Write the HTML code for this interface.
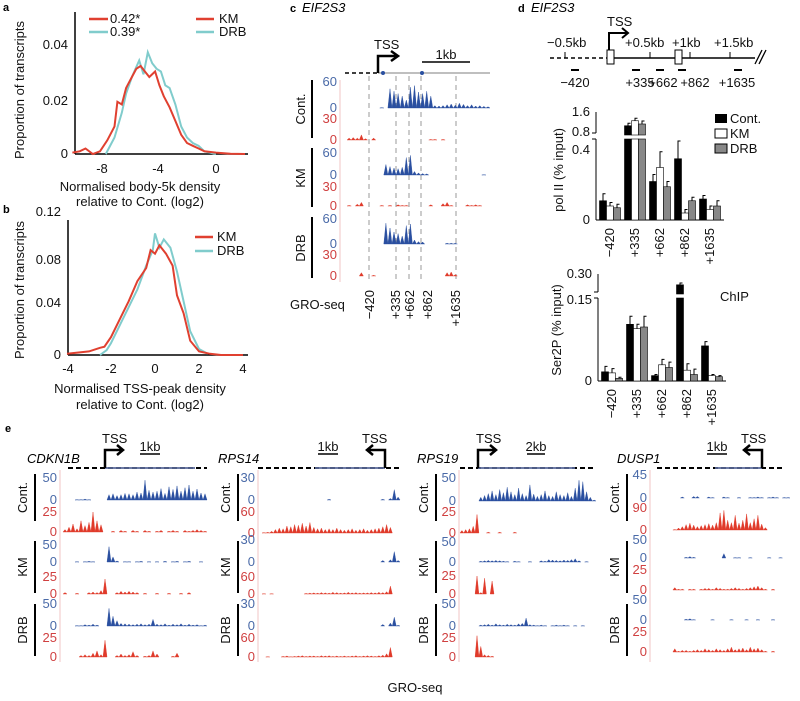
<!DOCTYPE html>
<html><head><meta charset="utf-8"><style>
body{margin:0;background:#fff}
svg{display:block;font-family:"Liberation Sans",Arial,sans-serif}
.t{font-size:13px;fill:#111}
.bl{font-size:13px;fill:#4a6aa8}
.rd{font-size:13px;fill:#d04040}
.pl{font-size:11px;font-weight:bold;fill:#000}
.it{font-style:italic;font-size:13px;fill:#000}
</style></head><body>
<svg id="fig" width="800" height="701" viewBox="0 0 800 701">
<text class="pl" x="3" y="11">a</text>
<text class="pl" x="3" y="213">b</text>
<text class="pl" x="290" y="12">c</text>
<text class="it" x="302" y="12">EIF2S3</text>
<text class="pl" x="518" y="12">d</text>
<text class="it" x="531" y="12">EIF2S3</text>
<text class="pl" x="5" y="432">e</text>

<g id="pa">
<line x1="75" y1="12" x2="75" y2="154" stroke="#000" stroke-width="1.5"/>
<line x1="75" y1="154" x2="248" y2="154" stroke="#000" stroke-width="1.5"/>
<text class="t" x="68" y="49" text-anchor="end">0.04</text>
<text class="t" x="68" y="105" text-anchor="end">0.02</text>
<text class="t" x="68" y="158" text-anchor="end">0</text>
<text class="t" x="102" y="173" text-anchor="middle">-8</text>
<text class="t" x="158" y="173" text-anchor="middle">-4</text>
<text class="t" x="216" y="173" text-anchor="middle">0</text>
<text class="t" x="140" y="191" text-anchor="middle">Normalised body-5k density</text>
<text class="t" x="140" y="206" text-anchor="middle">relative to Cont. (log2)</text>
<text class="t" transform="translate(24,90) rotate(-90)" text-anchor="middle">Proportion of transcripts</text>
<line x1="89" y1="19" x2="108" y2="19" stroke="#e04030" stroke-width="2.5"/>
<text class="t" x="110" y="23">0.42*</text>
<line x1="89" y1="32" x2="108" y2="32" stroke="#80cccc" stroke-width="2.5"/>
<text class="t" x="110" y="36">0.39*</text>
<line x1="196" y1="19" x2="214" y2="19" stroke="#e04030" stroke-width="2.5"/>
<text class="t" x="219" y="23">KM</text>
<line x1="196" y1="32" x2="214" y2="32" stroke="#80cccc" stroke-width="2.5"/>
<text class="t" x="219" y="36">DRB</text>
</g>

<g id="pb">
<line x1="68" y1="220" x2="68" y2="355" stroke="#000" stroke-width="1.5"/>
<line x1="68" y1="355" x2="248" y2="355" stroke="#000" stroke-width="1.5"/>
<text class="t" x="61" y="216" text-anchor="end">0.12</text>
<text class="t" x="61" y="264" text-anchor="end">0.08</text>
<text class="t" x="61" y="307" text-anchor="end">0.04</text>
<text class="t" x="61" y="359" text-anchor="end">0</text>
<text class="t" x="68" y="373" text-anchor="middle">-4</text>
<text class="t" x="111" y="373" text-anchor="middle">-2</text>
<text class="t" x="155" y="373" text-anchor="middle">0</text>
<text class="t" x="199" y="373" text-anchor="middle">2</text>
<text class="t" x="243" y="373" text-anchor="middle">4</text>
<text class="t" x="140" y="393" text-anchor="middle">Normalised TSS-peak density</text>
<text class="t" x="140" y="409" text-anchor="middle">relative to Cont. (log2)</text>
<text class="t" transform="translate(24,290) rotate(-90)" text-anchor="middle">Proportion of transcripts</text>
<line x1="195" y1="237" x2="213" y2="237" stroke="#e04030" stroke-width="2.5"/>
<text class="t" x="217" y="241">KM</text>
<line x1="195" y1="251" x2="213" y2="251" stroke="#80cccc" stroke-width="2.5"/>
<text class="t" x="217" y="255">DRB</text>
</g>

<g id="pc">
<line x1="345" y1="73" x2="378" y2="73" stroke="#000" stroke-width="1.5" stroke-dasharray="4,3"/>
<line x1="378" y1="73" x2="490" y2="73" stroke="#aaa" stroke-width="1.5"/>
<circle cx="383" cy="73" r="2" fill="#2a4fa0"/><circle cx="422" cy="73" r="2" fill="#2a4fa0"/>
<path d="M378,73 V56 H398 M391,51 L398,56 L391,61" fill="none" stroke="#000" stroke-width="2.5"/>
<text class="t" x="374" y="49">TSS</text>
<line x1="422" y1="62" x2="470" y2="62" stroke="#000" stroke-width="1.5"/>
<text class="t" x="446" y="59" text-anchor="middle">1kb</text>
<line x1="340" y1="80" x2="340" y2="282" stroke="#f2c4c4" stroke-width="1"/>
<g stroke="#999" stroke-dasharray="5,4" stroke-width="1">
<line x1="369" y1="76" x2="369" y2="283"/><line x1="396" y1="76" x2="396" y2="283"/>
<line x1="409" y1="76" x2="409" y2="283"/><line x1="421" y1="76" x2="421" y2="283"/>
<line x1="456" y1="76" x2="456" y2="283"/></g>
<line x1="312" y1="80" x2="312" y2="138" stroke="#000" stroke-width="2"/>
<line x1="312" y1="148" x2="312" y2="207" stroke="#000" stroke-width="2"/>
<line x1="312" y1="217" x2="312" y2="278" stroke="#000" stroke-width="2"/>
<text class="t" transform="translate(305,109) rotate(-90)" text-anchor="middle">Cont.</text>
<text class="t" transform="translate(305,178) rotate(-90)" text-anchor="middle">KM</text>
<text class="t" transform="translate(305,248) rotate(-90)" text-anchor="middle">DRB</text>
<g text-anchor="end">
<text class="bl" x="337" y="86">60</text><text class="bl" x="337" y="112">0</text>
<text class="rd" x="337" y="123">30</text><text class="rd" x="337" y="144">0</text>
<text class="bl" x="337" y="157">60</text><text class="bl" x="337" y="179">0</text>
<text class="rd" x="337" y="191">30</text><text class="rd" x="337" y="210">0</text>
<text class="bl" x="337" y="223">60</text><text class="bl" x="337" y="248">0</text>
<text class="rd" x="337" y="259">30</text><text class="rd" x="337" y="280">0</text>
</g>
<text class="t" x="290" y="309">GRO-seq</text>
<g text-anchor="end">
<text class="t" transform="translate(374,290) rotate(-90)">−420</text>
<text class="t" transform="translate(400,290) rotate(-90)">+335</text>
<text class="t" transform="translate(414,290) rotate(-90)">+662</text>
<text class="t" transform="translate(432,290) rotate(-90)">+862</text>
<text class="t" transform="translate(460,290) rotate(-90)">+1635</text>
</g>
</g>

<g id="pd">
<line x1="550" y1="58" x2="609" y2="58" stroke="#000" stroke-width="1.5" stroke-dasharray="4,3"/>
<line x1="609" y1="58" x2="755" y2="58" stroke="#000" stroke-width="1.5"/>
<path d="M755,64 L762,50 M759,64 L766,50" stroke="#000" stroke-width="1.3"/>
<line x1="565" y1="52" x2="565" y2="58" stroke="#000"/><line x1="650" y1="52" x2="650" y2="58" stroke="#000"/>
<line x1="690" y1="52" x2="690" y2="58" stroke="#000"/><line x1="730" y1="52" x2="730" y2="58" stroke="#000"/>
<rect x="607" y="50" width="7" height="14" fill="#fff" stroke="#000"/>
<rect x="675" y="50" width="7" height="14" fill="#fff" stroke="#000"/>
<path d="M609,50 V33 H628 M622,28 L628,33 L622,38" fill="none" stroke="#000" stroke-width="2"/>
<text class="t" x="607" y="26">TSS</text>
<g><text class="t" x="547" y="47">−0.5kb</text><text class="t" x="625" y="47">+0.5kb</text>
<text class="t" x="672" y="47">+1kb</text><text class="t" x="714" y="47">+1.5kb</text></g>
<g stroke="#000" stroke-width="2"><line x1="571" y1="70" x2="579" y2="70"/><line x1="632" y1="70" x2="640" y2="70"/>
<line x1="656" y1="70" x2="664" y2="70"/><line x1="678" y1="70" x2="686" y2="70"/><line x1="734" y1="70" x2="742" y2="70"/></g>
<g text-anchor="middle"><text class="t" x="575" y="87">−420</text><text class="t" x="640" y="87">+335</text>
<text class="t" x="663" y="87">+662</text><text class="t" x="695" y="87">+862</text><text class="t" x="737" y="87">+1635</text></g>
<text class="t" transform="translate(563,170) rotate(-90)" text-anchor="middle">pol II (% input)</text>
<text class="t" transform="translate(561,330) rotate(-90)" text-anchor="middle">Ser2P (% input)</text>
<text class="t" x="720" y="301">ChIP</text>
<rect x="715" y="114" width="12" height="9" fill="#000"/><text class="t" x="730" y="123">Cont.</text>
<rect x="715" y="129" width="12" height="9" fill="#fff" stroke="#000"/><text class="t" x="730" y="138">KM</text>
<rect x="715" y="144" width="12" height="9" fill="#888" stroke="#000"/><text class="t" x="730" y="153">DRB</text>
</g>

<g id="pe"></g>
<text class="t" x="415" y="692" text-anchor="middle">GRO-seq</text>
</svg>
<script>
const NS='http://www.w3.org/2000/svg';
const svg=document.getElementById('fig');
function mk(tag,attrs,parent){const e=document.createElementNS(NS,tag);for(const k in attrs)e.setAttribute(k,attrs[k]);(parent||svg).appendChild(e);return e;}

const aKmX=[-9.9,-9.4,-9.0,-8.5,-8.0,-7.5,-7.0,-6.8,-6.5,-6.2,-5.8,-5.5,-5.2,-4.9,-4.6,-4.2,-3.9,-3.6,-3.2,-2.8,-2.4,-2.0,-1.6,-1.2,-0.8,0,1,2];
const aKmY=[0.0005,0.001,0.002,0.0,0.001,0.005,0.010,0.019,0.018,0.024,0.028,0.031,0.032,0.030,0.028,0.030,0.025,0.021,0.017,0.012,0.007,0.004,0.003,0.002,0.001,0.0005,0.0001,0];
const aDrbX=[-7.6,-7.0,-6.5,-6.2,-5.8,-5.3,-5.0,-4.7,-4.4,-4.1,-3.8,-3.5,-3.2,-2.8,-2.4,-2.0,-1.6,-1.2,-0.8,0];
const aDrbY=[0,0.006,0.015,0.022,0.028,0.034,0.029,0.037,0.033,0.031,0.030,0.025,0.024,0.018,0.010,0.006,0.004,0.003,0.001,0];
const ax=v=>216+v*14.5, ay=v=>154-v*2750;
const bKmX=[-4,-3,-2.5,-2.3,-2,-1.6,-1.2,-0.8,-0.4,-0.2,0,0.2,0.5,0.8,1.0,1.3,1.6,2,2.5,3,4];
const bKmY=[0.001,0.003,0.006,0.007,0.015,0.030,0.045,0.062,0.073,0.088,0.085,0.092,0.085,0.075,0.050,0.035,0.012,0.003,0.001,0,0];
const bDrbX=[-2.5,-2.2,-2,-1.6,-1.2,-0.8,-0.4,-0.1,0,0.2,0.4,0.7,1.0,1.3,1.6,2,2.4];
const bDrbY=[0,0.004,0.010,0.025,0.040,0.055,0.075,0.088,0.102,0.090,0.097,0.090,0.070,0.045,0.020,0.005,0.001];
const bx=v=>155+v*22, by=v=>355-v*1192;

function line(xs,ys,fx,fy,color,name){
  const p=mk('polyline',{points:xs.map((x,i)=>fx(x).toFixed(1)+','+fy(ys[i]).toFixed(1)).join(' '),fill:'none',stroke:color,'stroke-width':2});
  
  
}
line(aDrbX,aDrbY,ax,ay,'#80cccc','a-line-drb');
line(aKmX,aKmY,ax,ay,'#e04030','a-line-km');
line(bDrbX,bDrbY,bx,by,'#80cccc','b-line-drb');
line(bKmX,bKmY,bx,by,'#e04030','b-line-km');

const sites=['−420','+335','+662','+862','+1635'];
const polCont=[0.11,1.05,0.22,0.35,0.12];
const polKm=[0.08,1.25,0.30,0.04,0.06];
const polDrb=[0.07,1.12,0.19,0.11,0.08];
const polErrCont=[0.04,0.1,0.04,0.09,0.02];
const polErrKm=[0.02,0.1,0.09,0.02,0.02];
const polErrDrb=[0.02,0.12,0.03,0.02,0.03];
const serCont=[0.017,0.105,0.010,0.24,0.065];
const serKm=[0.015,0.097,0.030,0.020,0.010];
const serDrb=[0.005,0.100,0.025,0.012,0.008];
const serErrCont=[0.01,0.015,0.002,0.01,0.008];
const serErrKm=[0.008,0.008,0.01,0.012,0.002];
const serErrDrb=[0.002,0.02,0.01,0.01,0.002];

function barChart(cfg){
  const g=mk('g',{});
  
  
  mk('line',{x1:cfg.ax,y1:cfg.yTop,x2:cfg.ax,y2:cfg.gapTop,stroke:'#000'},g);
  mk('line',{x1:cfg.ax,y1:cfg.gapBot,x2:cfg.ax,y2:cfg.y0,stroke:'#000'},g);
  mk('line',{x1:cfg.ax-4,y1:cfg.gapTop,x2:cfg.ax,y2:cfg.gapTop,stroke:'#000'},g);
  mk('line',{x1:cfg.ax-4,y1:cfg.gapBot,x2:cfg.ax,y2:cfg.gapBot,stroke:'#000'},g);
  mk('line',{x1:cfg.ax,y1:cfg.y0,x2:cfg.ax+128,y2:cfg.y0,stroke:'#000'},g);
  cfg.ticks.forEach((tk,i)=>{
    const t=mk('text',{class:'t',x:cfg.ax-6,y:cfg.y(tk)+4,'text-anchor':'end'},g);t.textContent=cfg.tickLabels[i];
  });
  const series=[[cfg.c,cfg.ec,'#000'],[cfg.k,cfg.ek,'#fff'],[cfg.d,cfg.ed,'#888']];
  sites.forEach((s,i)=>{
    const cx=cfg.ax+14+i*25;
    series.forEach((se,j)=>{
      const v=se[0][i], x=cx-10.5+j*7, yv=cfg.y(v);
      let r;
      if(v>cfg.brk){
        mk('rect',{x:x,y:cfg.gapBot,width:7,height:cfg.y0-cfg.gapBot,fill:se[2],stroke:'#000','stroke-width':0.6},g);
        r=mk('rect',{x:x,y:yv,width:7,height:Math.max(1,cfg.gapTop+2-yv),fill:se[2],stroke:'#000','stroke-width':0.6},g);
      } else {
        r=mk('rect',{x:x,y:yv,width:7,height:cfg.y0-yv,fill:se[2],stroke:'#000','stroke-width':0.6},g);
      }
      
      
      const ye=cfg.y(v+se[1][i]);
      mk('path',{d:`M${x+3.5},${yv} V${ye} H${x+6}`,stroke:'#000',fill:'none','stroke-width':1},g);
    });
    const t=mk('text',{class:'t','text-anchor':'end',transform:`translate(${cx+4},${cfg.y0+8}) rotate(-90)`},g);
    t.textContent=s;
  });
}
barChart({name:'polii-chart',ax:596,y0:220,yTop:112,gapTop:133,gapBot:139,brk:0.4,
  y:v=>v<=0.4?220-v*175:132-(v-0.8)*25,ticks:[0,0.4,0.8,1.6],tickLabels:['0','0.4','0.8','1.6'],
  c:polCont,k:polKm,d:polDrb,ec:polErrCont,ek:polErrKm,ed:polErrDrb});
barChart({name:'ser2p-chart',ax:598,y0:381,yTop:274,gapTop:292,gapBot:298,brk:0.16,
  y:v=>v<=0.16?381-v*540:274+(0.30-v)*180,ticks:[0,0.15,0.30],tickLabels:['0','0.15','0.30'],
  c:serCont,k:serKm,d:serDrb,ec:serErrCont,ek:serErrKm,ed:serErrDrb});

const cContBlue=[0,0,0,0,0,0,0,0,0,1,0,48,42,36,30,20,52,56,40,36,42,30,6,5,6,8,10,7,12,9,6,8,5,6,4,3];
const cContRed=[0,3,4,3,8,2,0,3,0,0,0,0,0,0,0,0,0,0,0,0,0,1,1,0,1,0,0,0,0,0,0,0,0,0,0,0];
const cKmBlue=[0,0,0,0,0,0,0,0,0,0,30,24,20,18,22,50,56,10,6,4,3,0,0,0,0,0,0,0,0,0,0,0,0,0,1,0];
const cKmRed=[0,1,0,3,6,0,0,0,0,1,0,1,0,2,1,1,0,0,0,0,0,2,0,0,4,6,1,0,0,0,2,1,2,1,0,0];
const cDrbBlue=[0,0,0,0,0,0,0,0,0,0,52,40,30,26,20,46,50,10,6,5,0,0,0,0,0,2,2,2,0,0,0,0,0,0,0,0];
const cDrbRed=[0,0,0,0,5,0,0,1,0,0,0,0,0,0,0,0,0,0,0,0,0,0,0,0,0,5,6,2,0,0,0,0,0,0,0,0];

const e1ContBlue=[0,0,0,1,1,2,1,0,0,0,0,12,14,10,12,15,14,12,18,16,45,22,18,20,26,15,30,24,32,20,28,34,20,25,16,14];
const e1ContRed=[3,6,10,4,14,8,12,25,14,9,0,0,1,0,2,1,0,2,1,0,2,1,0,1,2,0,1,2,1,0,2,1,2,3,2,1];
const e1KmBlue=[0,0,0,1,0,1,2,1,0,0,0,45,15,3,0,1,1,0,1,2,0,1,0,1,0,2,0,1,2,0,1,2,0,0,1,0];
const e1KmRed=[2,0,0,1,0,0,2,3,2,5,22,0,0,2,4,3,4,3,2,0,1,0,0,1,0,0,1,0,0,1,0,2,0,0,0,0];
const e1DrbBlue=[0,0,0,1,1,3,2,4,2,0,0,40,22,12,6,5,4,3,4,5,3,4,15,4,3,5,2,4,3,5,2,4,2,3,1,2];
const e1DrbRed=[0,0,0,0,2,3,2,5,8,3,22,0,0,2,4,2,3,7,2,0,1,2,8,4,0,0,0,1,5,0,0,0,0,0,0,0];

const e2ContBlue=[0,0,0,0,0,0,0,0,0,0,0,0,0,0,0,0,0,1,0,0,0,0,0,0,0,0,0,0,0,0,0,1,0,2,14,4];
const e2ContRed=[1,2,5,10,14,12,20,18,24,22,28,20,30,16,12,14,10,12,10,14,10,8,10,12,8,10,12,8,10,12,14,18,24,16,0,0];
const e2KmBlue=[0,0,0,0,0,0,0,0,0,0,0,0,0,0,0,0,0,0,0,0,0,0,0,0,0,0,0,0,0,0,0,2,0,3,14,2];
const e2KmRed=[1,0,1,0,0,0,0,0,0,0,0,2,3,4,3,5,4,3,6,5,3,4,6,4,5,3,4,4,5,4,6,5,8,28,0,0];
const e2DrbBlue=[0,0,0,0,0,0,0,0,0,0,0,0,0,0,0,0,0,0,0,0,0,0,0,0,0,0,0,0,0,0,0,2,0,4,12,1];
const e2DrbRed=[0,1,0,0,0,2,3,1,2,3,4,2,3,3,2,4,3,4,2,3,2,3,2,3,4,2,3,4,3,2,4,6,10,30,0,0];

const e3ContBlue=[0,0,0,0,0,8,12,16,22,14,25,18,30,20,14,28,16,12,35,15,10,14,22,12,10,20,14,12,18,10,28,45,42,20,8,2];
const e3ContRed=[3,4,5,8,22,0,0,1,0,0,1,0,0,0,1,0,0,0,0,0,0,0,0,0,0,0,0,0,0,0,0,0,0,0,0,0];
const e3KmBlue=[0,0,0,0,0,2,3,4,3,4,3,2,1,0,2,1,0,0,1,0,0,3,2,6,5,4,3,5,4,6,8,3,0,1,0,0];
const e3KmRed=[0,0,0,0,25,2,22,0,18,0,0,0,0,0,0,0,0,0,0,0,0,0,0,0,0,0,0,0,0,0,0,0,0,0,0,0];
const e3DrbBlue=[0,0,0,0,0,2,3,4,2,5,3,2,4,3,2,5,6,18,3,2,1,2,1,0,1,2,1,2,1,0,1,0,1,0,0,0];
const e3DrbRed=[0,0,0,0,28,14,3,2,1,0,0,0,0,0,0,0,0,0,0,0,0,0,0,0,0,0,0,0,0,0,0,0,0,0,0,0];

const e4ContBlue=[0,0,0,0,0,0,0,2,0,0,3,3,0,0,2,1,0,0,2,1,0,0,1,0,0,1,1,2,1,0,1,2,1,0,1,1];
const e4ContRed=[0,0,0,0,0,2,8,14,22,28,20,14,18,22,26,20,30,70,80,40,30,60,28,40,66,30,46,60,24,10,0,0,0,0,0,0];
const e4KmBlue=[0,0,0,0,0,0,0,0,2,4,2,0,0,0,0,0,0,0,12,0,0,1,1,0,0,1,0,0,0,0,1,0,0,1,0,0];
const e4KmRed=[0,0,0,0,0,3,1,1,0,1,1,0,1,2,2,1,3,2,1,1,2,3,2,1,2,3,4,5,3,1,0,1,0,0,0,0];
const e4DrbBlue=[0,0,0,0,0,0,0,0,2,3,1,0,0,0,0,1,0,0,0,0,1,0,0,0,1,0,0,1,0,0,0,1,0,0,0,0];
const e4DrbRed=[0,0,0,0,0,4,1,2,2,1,2,3,2,4,3,2,4,3,2,4,6,3,4,5,3,6,4,5,3,1,0,1,0,0,0,0];

const BLUE='#2a4fa0', RED='#e03a2a';
function track(name,vals,x0,x1,base,topY,max,color){
  const w=(x1-x0)/vals.length, s=(base-topY)/max;
  let d='';
  vals.forEach((v,i)=>{
    if(v<=0)return;
    const x=x0+i*w, h=Math.min(v*s,base-topY+6);
    d+=`M${x.toFixed(1)},${base} L${(x+w*0.5).toFixed(1)},${(base-h).toFixed(1)} L${(x+w).toFixed(1)},${base} Z `;
  });
  const p=mk('path',{d:d||'M0,0',fill:color,stroke:color,'stroke-width':0.4});
  
  
}
track('c-cont-blue',cContBlue,343,490,108,84,60,BLUE);
track('c-cont-red',cContRed,343,490,140,121,30,RED);
track('c-km-blue',cKmBlue,343,490,175,154,60,BLUE);
track('c-km-red',cKmRed,343,490,206,188,30,RED);
track('c-drb-blue',cDrbBlue,343,490,244,220,60,BLUE);
track('c-drb-red',cDrbRed,343,490,276,256,30,RED);

const eGenes=['CDKN1B','RPS14','RPS19','DUSP1'];
const eBlueMax=['50','30','50','45'];
const eRedMax=['25','60','25','90'];
const eKmRedMax=['25','60','25','25'];
const eBlueMaxK=['50','30','50','50'];
const eData=[[e1ContBlue,e1ContRed,e1KmBlue,e1KmRed,e1DrbBlue,e1DrbRed],
 [e2ContBlue,e2ContRed,e2KmBlue,e2KmRed,e2DrbBlue,e2DrbRed],
 [e3ContBlue,e3ContRed,e3KmBlue,e3KmRed,e3DrbBlue,e3DrbRed],
 [e4ContBlue,e4ContRed,e4KmBlue,e4KmRed,e4DrbBlue,e4DrbRed]];
const pe=document.getElementById('pe');
const lay=[
 {ax:60,bar:35,title:27,x0:63,x1:207,tss:105,dir:1,tssLab:102,sc:[140,160],scl:'1kb',dash:[68,207],solid:[105,195],base:[500,532,562,594,626,657],top:[478,512,545,577,604,638]},
 {ax:258,bar:238,title:218,x0:262,x1:400,tss:385,dir:-1,tssLab:362,sc:[318,338],scl:'1kb',dash:[258,400],solid:[315,385],base:[500,533,562,594,626,657],top:[478,512,540,577,604,638]},
 {ax:459,bar:436,title:417,x0:460,x1:596,tss:478,dir:1,tssLab:476,sc:[527,545],scl:'2kb',dash:[460,596],solid:[478,575],base:[501,533,562,594,626,657],top:[478,512,542,576,604,638]},
 {ax:650,bar:627,title:617,x0:654,x1:790,tss:762,dir:-1,tssLab:741,sc:[707,727],scl:'1kb',dash:[657,785],solid:[715,762],base:[498,530,558,590,620,652],top:[475,508,540,570,600,632]}];
const cond=['cont','km','drb'];
lay.forEach((L,gi)=>{
  const g=mk('g',{},pe);
  
  
  const t=mk('text',{class:'it',x:L.title,y:463},g);t.textContent=eGenes[gi];
  mk('line',{x1:L.dash[0],y1:468,x2:L.dash[1],y2:468,stroke:'#000','stroke-width':2,'stroke-dasharray':'5,3'},g);
  mk('line',{x1:L.solid[0],y1:468,x2:L.solid[1],y2:468,stroke:'#5a6a9a','stroke-width':1.8},g);
  mk('path',{d:`M${L.tss},468 V450 H${L.tss+L.dir*18} M${L.tss+L.dir*12},445 L${L.tss+L.dir*18},450 L${L.tss+L.dir*12},455`,fill:'none',stroke:'#000','stroke-width':2.5},g);
  const ts=mk('text',{class:'t',x:L.tssLab,y:443},g);ts.textContent='TSS';
  mk('line',{x1:L.sc[0],y1:454,x2:L.sc[1],y2:454,stroke:'#000','stroke-width':1.5},g);
  const sl=mk('text',{class:'t',x:(L.sc[0]+L.sc[1])/2,y:451,'text-anchor':'middle'},g);sl.textContent=L.scl;
  mk('line',{x1:L.ax,y1:470,x2:L.ax,y2:662,stroke:'#f2c4c4'},g);
  const barsY=[[474,521],[541,593],[604,656]];
  barsY.forEach((b,ci)=>{
    mk('line',{x1:L.bar,y1:b[0],x2:L.bar,y2:b[1],stroke:'#000','stroke-width':2},g);
    const lb=mk('text',{class:'t','text-anchor':'middle',transform:`translate(${L.bar-8},${(b[0]+b[1])/2}) rotate(-90)`},g);
    lb.textContent=['Cont.','KM','DRB'][ci];
  });
  for(let k=0;k<6;k++){
    const isBlue=k%2===0, ci=Math.floor(k/2);
    const maxLab=isBlue?(ci===0?eBlueMax[gi]:eBlueMaxK[gi]):(ci===0?eRedMax[gi]:eKmRedMax[gi]);
    const t1=mk('text',{class:isBlue?'bl':'rd',x:L.ax-3,y:L.top[k]+4,'text-anchor':'end'},g);t1.textContent=maxLab;
    const t0=mk('text',{class:isBlue?'bl':'rd',x:L.ax-3,y:L.base[k]+4,'text-anchor':'end'},g);t0.textContent='0';
    track('e-'+eGenes[gi].toLowerCase()+'-'+cond[ci]+(isBlue?'-blue':'-red'),eData[gi][k],L.x0,L.x1,L.base[k],L.top[k],parseFloat(maxLab),isBlue?BLUE:RED);
  }
});
</script>
</body></html>
